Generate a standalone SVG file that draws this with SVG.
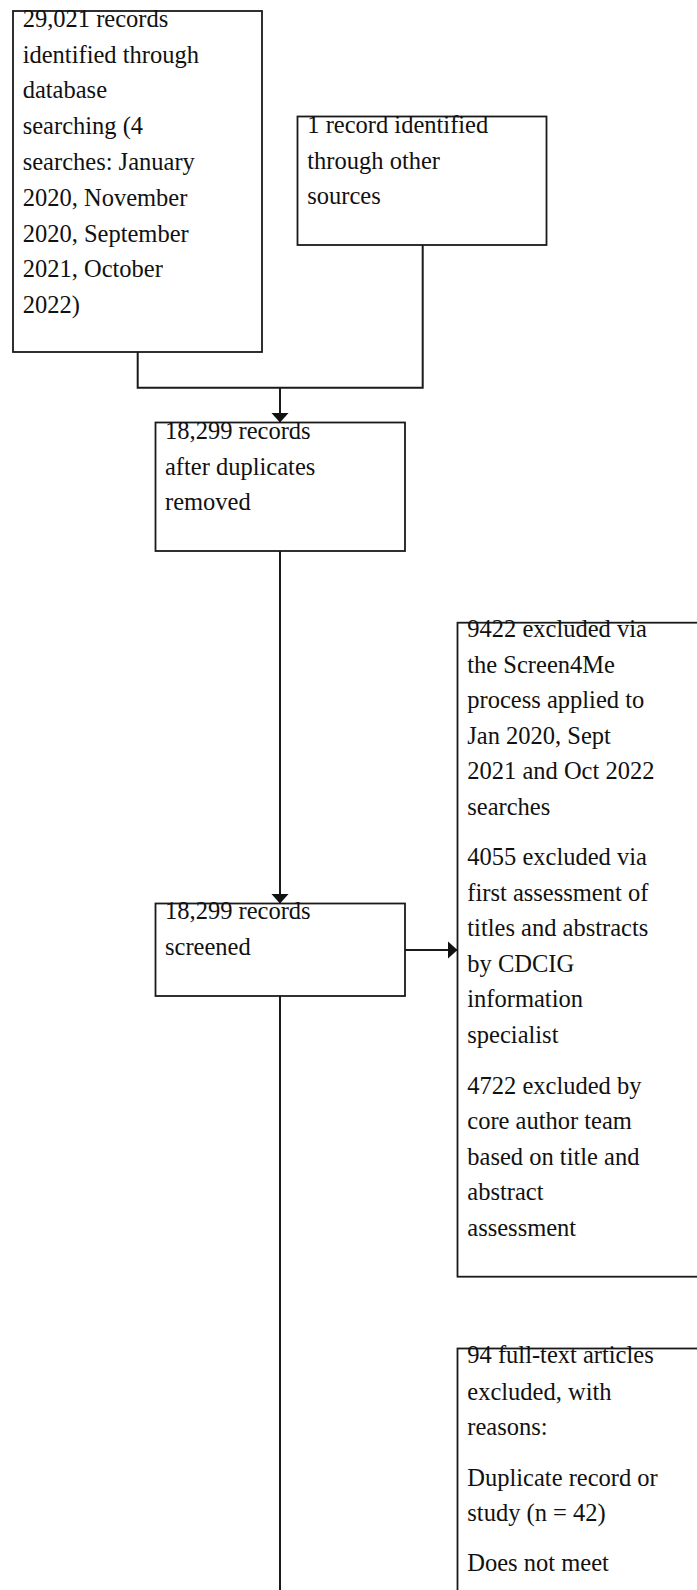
<svg xmlns="http://www.w3.org/2000/svg" width="697" height="1590" viewBox="0 0 697 1590">
<defs>
<style>
.box{fill:#fff;stroke:#1a1a1a;stroke-width:1.8}
.t{font-family:"Liberation Serif","Times New Roman",serif;font-size:24.5px;fill:#111}
.c{fill:none;stroke:#1a1a1a;stroke-width:2}
</style>
<marker id="arr" viewBox="0 0 10 18" refX="10" refY="9" markerWidth="10" markerHeight="18" markerUnits="userSpaceOnUse" orient="auto">
<path d="M0,0 L10,9 L0,18 Z" fill="#111"/>
</marker>
</defs>
<rect width="697" height="1590" fill="#fff"/>
<g id="connectors">
<path class="c" d="M137.7,352 V387.7 H280"/>
<path class="c" d="M422.7,245 V387.7 H280"/>
<path class="c" d="M280,387.7 V422.5" marker-end="url(#arr)"/>
<path class="c" d="M280,551 V903.5" marker-end="url(#arr)"/>
<path class="c" d="M405,950 H457.5" marker-end="url(#arr)"/>
<path class="c" d="M280,996 V1592"/>
</g>
<g id="n1">
<rect class="box" x="13" y="11" width="249" height="341"/>
<text class="t" x="22.7" y="26.7">29,021 records</text>
<text class="t" x="22.7" y="62.5">identified through</text>
<text class="t" x="22.7" y="98.3">database</text>
<text class="t" x="22.7" y="134.1">searching (4</text>
<text class="t" x="22.7" y="169.9">searches: January</text>
<text class="t" x="22.7" y="205.7">2020, November</text>
<text class="t" x="22.7" y="241.5">2020, September</text>
<text class="t" x="22.7" y="277.3">2021, October</text>
<text class="t" x="22.7" y="313.1">2022)</text>
</g>
<g id="n2">
<rect class="box" x="297.5" y="116.5" width="249" height="128.5"/>
<text class="t" x="307.3" y="133.3">1 record identified</text>
<text class="t" x="307.3" y="168.8">through other</text>
<text class="t" x="307.3" y="204.3">sources</text>
</g>
<g id="n3">
<rect class="box" x="155.5" y="422.5" width="249.5" height="128.5"/>
<text class="t" x="165" y="439">18,299 records</text>
<text class="t" x="165" y="474.5">after duplicates</text>
<text class="t" x="165" y="510">removed</text>
</g>
<g id="n4">
<rect class="box" x="155.5" y="903.5" width="249.5" height="92.5"/>
<text class="t" x="165" y="919.3">18,299 records</text>
<text class="t" x="165" y="955">screened</text>
</g>
<g id="n5">
<rect class="box" x="457.5" y="622.7" width="260" height="654"/>
<text class="t" x="467.3" y="637.3">9422 excluded via</text>
<text class="t" x="467.3" y="672.8">the Screen4Me</text>
<text class="t" x="467.3" y="708.3">process applied to</text>
<text class="t" x="467.3" y="743.8">Jan 2020, Sept</text>
<text class="t" x="467.3" y="779.3">2021 and Oct 2022</text>
<text class="t" x="467.3" y="814.8">searches</text>
<text class="t" x="467.3" y="865">4055 excluded via</text>
<text class="t" x="467.3" y="900.5">first assessment of</text>
<text class="t" x="467.3" y="936">titles and abstracts</text>
<text class="t" x="467.3" y="971.5">by CDCIG</text>
<text class="t" x="467.3" y="1007">information</text>
<text class="t" x="467.3" y="1042.5">specialist</text>
<text class="t" x="467.3" y="1093.5">4722 excluded by</text>
<text class="t" x="467.3" y="1129">core author team</text>
<text class="t" x="467.3" y="1164.5">based on title and</text>
<text class="t" x="467.3" y="1200">abstract</text>
<text class="t" x="467.3" y="1235.5">assessment</text>
</g>
<g id="n6">
<rect class="box" x="457.5" y="1348.5" width="260" height="300"/>
<text class="t" x="467.3" y="1363.3">94 full-text articles</text>
<text class="t" x="467.3" y="1399.5">excluded, with</text>
<text class="t" x="467.3" y="1435">reasons:</text>
<text class="t" x="467.3" y="1485.7">Duplicate record or</text>
<text class="t" x="467.3" y="1521.2">study (n = 42)</text>
<text class="t" x="467.3" y="1571">Does not meet</text>
</g>
</svg>
